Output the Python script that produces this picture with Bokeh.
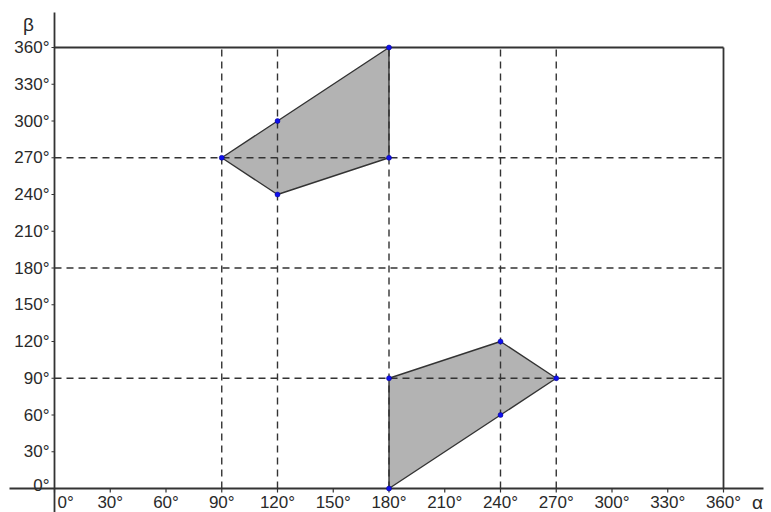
from bokeh.plotting import figure
from bokeh.models import Range1d
from bokeh.embed import file_html
from bokeh.resources import INLINE
from bokeh.core.properties import value

# ---- data ----
alpha_ticks = [0, 30, 60, 90, 120, 150, 180, 210, 240, 270, 300, 330, 360]
alpha_labels = ["0°", "30°", "60°", "90°", "120°", "150°", "180°", "210°", "240°", "270°", "300°", "330°", "360°"]
beta_ticks = [0, 30, 60, 90, 120, 150, 180, 210, 240, 270, 300, 330, 360]
beta_labels = ["0°", "30°", "60°", "90°", "120°", "150°", "180°", "210°", "240°", "270°", "300°", "330°", "360°"]

dash_alpha = [90, 120, 180, 240, 270]
dash_beta = [90, 180, 270]

upper_alpha = [90, 120, 180, 180, 120]
upper_beta = [270, 300, 360, 270, 240]
lower_alpha = [180, 180, 240, 270, 240]
lower_beta = [0, 90, 120, 90, 60]

A_MAX = 360
B_MAX = 360

# ---- layout ----
W, H = 771, 512
sx = 669 / 360.0   # px per degree (alpha)
sy = 441 / 360.0   # px per degree (beta)
x0 = -54 / sx
x1 = x0 + W / sx
y_top = B_MAX + 47 / sy
y0 = y_top - H / sy

p = figure(width=W, height=H, output_backend="svg", toolbar_location=None,
           x_range=Range1d(x0, x1), y_range=Range1d(y0, y_top),
           min_border=0, min_border_left=0, min_border_right=0,
           min_border_top=0, min_border_bottom=0)
p.xaxis.visible = False
p.yaxis.visible = False
p.grid.visible = False
p.outline_line_color = None
p.background_fill_color = "white"
p.border_fill_color = "white"

LC = "#333333"
TC = "#2a2a2a"
FONT = value("Liberation Sans")

# polygons
p.patch(upper_alpha, upper_beta, fill_color="#b3b3b3", line_color=LC, line_width=1.4)
p.patch(lower_alpha, lower_beta, fill_color="#b3b3b3", line_color=LC, line_width=1.4)

# dashed guide lines
p.segment(x0=dash_alpha, y0=[0] * len(dash_alpha), x1=dash_alpha, y1=[B_MAX] * len(dash_alpha),
          line_color=LC, line_width=1.4, line_dash="7 5")
p.segment(x0=[0] * len(dash_beta), y0=dash_beta, x1=[A_MAX] * len(dash_beta), y1=dash_beta,
          line_color=LC, line_width=1.4, line_dash="7 5")

# solid boundary lines
p.segment(x0=[0, A_MAX], y0=[B_MAX, 0], x1=[A_MAX, A_MAX], y1=[B_MAX, B_MAX],
          line_color=LC, line_width=1.8)

# axes
p.segment(x0=[x0 + 9 / sx], y0=[0], x1=[x0 + 763 / sx], y1=[0], line_color=LC, line_width=1.8)
p.segment(x0=[0], y0=[y0], x1=[0], y1=[y_top - 12 / sy], line_color=LC, line_width=1.8)

# tick marks
p.segment(x0=alpha_ticks, y0=[0] * len(alpha_ticks), x1=alpha_ticks, y1=[-4 / sy] * len(alpha_ticks),
          line_color=LC, line_width=1.2)
p.segment(x0=[0] * len(beta_ticks), y0=beta_ticks, x1=[-3 / sx] * len(beta_ticks), y1=beta_ticks,
          line_color=LC, line_width=1.2)

# vertices
p.scatter(upper_alpha + lower_alpha, upper_beta + lower_beta, size=5,
          fill_color="#1010ee", line_color="#00008b", line_width=0.5)

# tick labels - alpha
p.text(x=alpha_ticks[1:], y=[0] * (len(alpha_ticks) - 1), text=alpha_labels[1:],
       text_align="center", text_baseline="top", y_offset=4,
       text_font=FONT, text_font_size="17px", text_color=TC)
p.text(x=[0], y=[0], text=alpha_labels[:1], text_align="left", text_baseline="top",
       x_offset=3, y_offset=4, text_font=FONT, text_font_size="17px", text_color=TC)

# tick labels - beta
p.text(x=[0] * (len(beta_ticks) - 1), y=beta_ticks[1:], text=beta_labels[1:],
       text_align="right", text_baseline="middle", x_offset=-5,
       text_font=FONT, text_font_size="17px", text_color=TC)
p.text(x=[0], y=[0], text=beta_labels[:1], text_align="right", text_baseline="alphabetic",
       x_offset=-5, y_offset=-3, text_font=FONT, text_font_size="17px", text_color=TC)

# axis names
p.text(x=[A_MAX], y=[0], text=["α"], text_align="center", text_baseline="top",
       x_offset=34, y_offset=3, text_font=FONT, text_font_size="19px", text_color=TC)
p.text(x=[0], y=[B_MAX], text=["β"], text_align="center", text_baseline="middle",
       x_offset=-26, y_offset=-23, text_font=FONT, text_font_size="19px", text_color=TC)

open("out.html", "w").write(file_html(p, INLINE))
